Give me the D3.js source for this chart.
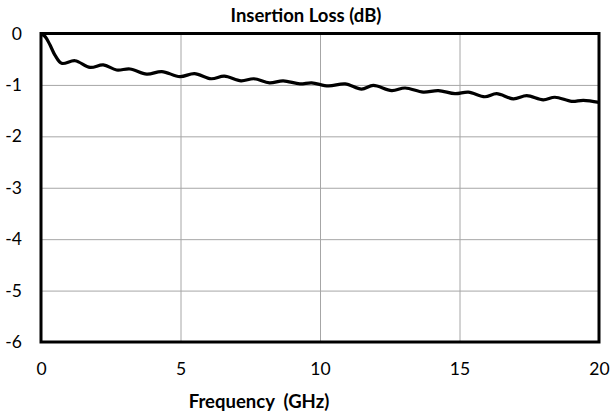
<!DOCTYPE html>
<html>
<head>
<meta charset="utf-8">
<script src="https://cdn.jsdelivr.net/npm/d3@7"></script>
<style>
  body { margin: 0; background: #fff; }
  svg { font-family: Lato, "Open Sans", sans-serif; }
</style>
</head>
<body>
<div id="chart"></div>
<script>
// values
const freqGHz = [0, 0.15, 0.32, 0.5, 0.74, 1.22, 1.76, 2.23, 2.71, 3.19, 3.79, 4.33, 4.98,
  5.5, 6.1, 6.57, 7.17, 7.63, 8.19, 8.68, 9.28, 9.7, 10.3, 10.9, 11.49, 11.91, 12.57,
  13.05, 13.7, 14.24, 14.84, 15.32, 15.91, 16.33, 16.93, 17.41, 18.0, 18.42, 19.02, 19.44, 20];
const lossDb = [0, -0.06, -0.22, -0.42, -0.58, -0.53, -0.66, -0.61, -0.71, -0.69, -0.79, -0.74, -0.84,
  -0.78, -0.88, -0.83, -0.92, -0.88, -0.96, -0.92, -0.98, -0.96, -1.02, -0.98, -1.08, -1.01, -1.11,
  -1.06, -1.14, -1.11, -1.17, -1.14, -1.23, -1.17, -1.27, -1.21, -1.29, -1.24, -1.32, -1.30, -1.34];
const xTicks = [0, 5, 10, 15, 20];
const yTicks = [0, -1, -2, -3, -4, -5, -6];

const width = 611, height = 419;
const plotLeft = 41, plotRight = 599, plotTop = 33.5, plotBottom = 342;

const svg = d3.select("#chart").append("svg")
  .attr("width", width)
  .attr("height", height);

const x = d3.scaleLinear().domain([0, 20]).range([plotLeft, plotRight]);
const y = d3.scaleLinear().domain([-6, 0]).range([plotBottom, plotTop]);

// gridlines
svg.append("g")
  .attr("transform", "translate(0," + plotBottom + ")")
  .call(d3.axisBottom(x).tickValues(xTicks).tickSize(-(plotBottom - plotTop)).tickFormat(""))
  .call(g => g.select(".domain").remove())
  .call(g => g.selectAll("line").attr("stroke", "#a6a6a6").attr("stroke-width", 1));

svg.append("g")
  .attr("transform", "translate(" + plotLeft + ",0)")
  .call(d3.axisLeft(y).tickValues(yTicks).tickSize(-(plotRight - plotLeft)).tickFormat(""))
  .call(g => g.select(".domain").remove())
  .call(g => g.selectAll("line").attr("stroke", "#a6a6a6").attr("stroke-width", 1));

// tick labels
svg.append("g")
  .attr("transform", "translate(0," + plotBottom + ")")
  .call(d3.axisBottom(x).tickValues(xTicks).tickSize(0).tickPadding(21).tickFormat(d => d))
  .call(g => g.select(".domain").remove())
  .call(g => g.selectAll("text").attr("font-size", 17.5).attr("fill", "#000")
    .attr("font-family", "Lato, sans-serif"));

svg.append("g")
  .attr("transform", "translate(" + plotLeft + ",0)")
  .call(d3.axisLeft(y).tickValues(yTicks).tickSize(0).tickPadding(19).tickFormat(d => d))
  .call(g => g.select(".domain").remove())
  .call(g => g.selectAll("text").attr("font-size", 17.5).attr("fill", "#000")
    .attr("font-family", "Lato, sans-serif"));

// data line
const line = d3.line()
  .curve(d3.curveCatmullRom.alpha(0.5))
  .x((d, i) => x(freqGHz[i]))
  .y(d => y(d));

svg.append("path")
  .attr("d", line(lossDb))
  .attr("fill", "none")
  .attr("stroke", "#000")
  .attr("stroke-width", 3.2)
  .attr("stroke-linejoin", "round");

// plot frame
svg.append("rect")
  .attr("x", plotLeft)
  .attr("y", plotTop)
  .attr("width", plotRight - plotLeft)
  .attr("height", plotBottom - plotTop)
  .attr("fill", "none")
  .attr("stroke", "#000")
  .attr("stroke-width", 3);

svg.append("text")
  .attr("x", 306)
  .attr("y", 22)
  .attr("text-anchor", "middle")
  .attr("font-size", 18.5)
  .attr("font-weight", "bold")
  .text("Insertion Loss (dB)");

svg.append("text")
  .attr("x", 259)
  .attr("y", 408)
  .attr("text-anchor", "middle")
  .attr("font-size", 18.5)
  .attr("font-weight", "bold")
  .attr("xml:space", "preserve")
  .style("white-space", "pre")
  .text("Frequency  (GHz)");
</script>
</body>
</html>
